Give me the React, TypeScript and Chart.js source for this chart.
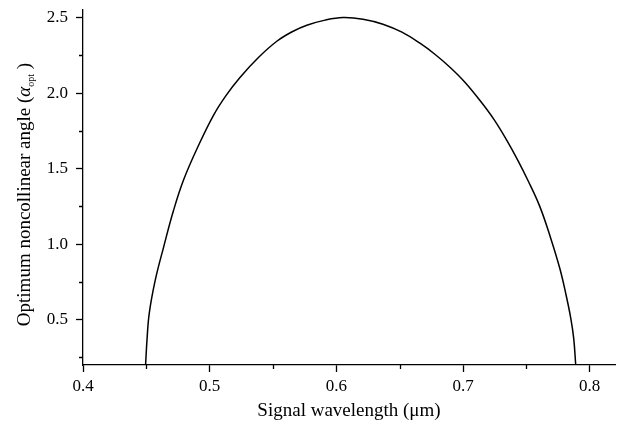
import React, { useEffect, useRef } from "react";
import { Chart, registerables } from "chart.js";

Chart.register(...registerables);

const wavelength = [
  0.4494, 0.4505, 0.4523, 0.4570, 0.4636, 0.4715, 0.4793, 0.4909, 0.5030, 0.5130,
  0.5241, 0.5383, 0.5530, 0.5651, 0.5767, 0.5911, 0.6053, 0.6211, 0.6368, 0.6518,
  0.6660, 0.6778, 0.6897, 0.7015, 0.7133, 0.7244, 0.7346, 0.7433, 0.7512, 0.7606,
  0.7693, 0.7764, 0.7811, 0.7851, 0.7874, 0.7890,
];
const angle = [
  0.200, 0.363, 0.542, 0.760, 0.979, 1.224, 1.423, 1.648, 1.853, 1.985,
  2.105, 2.234, 2.343, 2.406, 2.449, 2.483, 2.500, 2.489, 2.456, 2.403,
  2.330, 2.257, 2.171, 2.072, 1.952, 1.826, 1.687, 1.555, 1.423, 1.250,
  1.038, 0.840, 0.674, 0.509, 0.376, 0.200,
];

const xMajorTicks = [0.4, 0.5, 0.6, 0.7, 0.8];
const xMinorTicks = [0.45, 0.55, 0.65, 0.75];
const yMajorTicks = [0.5, 1.0, 1.5, 2.0, 2.5];
const yMinorTicks = [0.25, 0.75, 1.25, 1.75, 2.25];

const FONT = "'Liberation Serif', 'Times New Roman', serif";

const minorTicksPlugin = {
  id: "minorTicks",
  afterDraw(chart: any) {
    const { ctx, scales } = chart;
    const xs = scales.x;
    const ys = scales.y;
    ctx.save();
    ctx.strokeStyle = "#000";
    ctx.lineWidth = 1.3;
    ctx.beginPath();
    for (const v of xMinorTicks) {
      const px = Math.round(xs.getPixelForValue(v)) + 0.5;
      ctx.moveTo(px, ys.bottom);
      ctx.lineTo(px, ys.bottom + 4);
    }
    for (const v of yMinorTicks) {
      const py = Math.round(ys.getPixelForValue(v)) + 0.5;
      ctx.moveTo(xs.left, py);
      ctx.lineTo(xs.left - 4, py);
    }
    ctx.stroke();
    ctx.restore();
  },
};

const yTitlePlugin = {
  id: "yTitle",
  afterDraw(chart: any) {
    const { ctx, chartArea } = chart;
    const parts = [
      { t: "Optimum noncollinear angle (", f: `19px ${FONT}`, dy: 0 },
      { t: "\u03B1", f: `italic 19px ${FONT}`, dy: 0 },
      { t: "opt", f: `10px ${FONT}`, dy: 4 },
      { t: " )", f: `19px ${FONT}`, dy: 0 },
    ];
    ctx.save();
    let total = 0;
    const widths = parts.map((p) => {
      ctx.font = p.f;
      const w = ctx.measureText(p.t).width;
      total += w;
      return w;
    });
    const cy = (chartArea.top + chartArea.bottom) / 2 + 7;
    ctx.translate(30, cy);
    ctx.rotate(-Math.PI / 2);
    ctx.fillStyle = "#000";
    ctx.textBaseline = "alphabetic";
    ctx.textAlign = "left";
    let x = -total / 2;
    parts.forEach((p, i) => {
      ctx.font = p.f;
      ctx.fillText(p.t, x, p.dy);
      x += widths[i];
    });
    ctx.restore();
  },
};

export default function App() {
  const ref = useRef<HTMLCanvasElement | null>(null);

  useEffect(() => {
    if (!ref.current) return;
    const chart = new Chart(ref.current, {
      type: "scatter",
      data: {
        datasets: [
          {
            data: wavelength.map((x, i) => ({ x, y: angle[i] })),
            showLine: true,
            borderColor: "#000",
            borderWidth: 1.5,
            pointRadius: 0,
            tension: 0.4,
            fill: false,
          },
        ],
      },
      plugins: [minorTicksPlugin, yTitlePlugin],
      options: {
        animation: false,
        responsive: false,
        maintainAspectRatio: false,
        layout: { padding: { top: 10, right: 5, left: 0, bottom: 0 } },
        plugins: {
          legend: { display: false },
          tooltip: { enabled: false },
        },
        scales: {
          x: {
            type: "linear",
            min: 0.4,
            max: 0.82,
            afterBuildTicks: (scale: any) => {
              scale.ticks = xMajorTicks.map((v) => ({ value: v }));
            },
            afterFit: (scale: any) => {
              scale.height = 57;
              scale.paddingLeft = 0;
              scale.paddingRight = 0;
            },
            ticks: {
              color: "#000",
              font: { family: FONT, size: 17 },
              padding: 4,
              maxRotation: 0,
              callback: (v: any) => Number(v).toFixed(1),
            },
            grid: {
              drawOnChartArea: false,
              drawTicks: true,
              tickLength: 7,
              tickColor: "#000",
              tickWidth: 1.3,
            },
            border: { display: true, color: "#000", width: 1.3 },
            title: {
              display: true,
              text: "Signal wavelength (\u03BCm)",
              color: "#000",
              font: { family: FONT, size: 19 },
              padding: { top: 0, bottom: 0 },
            },
          },
          y: {
            type: "linear",
            min: 0.2,
            max: 2.55,
            afterBuildTicks: (scale: any) => {
              scale.ticks = yMajorTicks.map((v) => ({ value: v }));
            },
            afterFit: (scale: any) => {
              scale.width = 83;
              scale.paddingTop = 0;
              scale.paddingBottom = 0;
            },
            ticks: {
              color: "#000",
              font: { family: FONT, size: 17 },
              padding: 8,
              callback: (v: any) => Number(v).toFixed(1),
            },
            grid: {
              drawOnChartArea: false,
              drawTicks: true,
              tickLength: 7,
              tickColor: "#000",
              tickWidth: 1.3,
            },
            border: { display: true, color: "#000", width: 1.3 },
          },
        },
      },
    });
    return () => chart.destroy();
  }, []);

  return (
    <div style={{ position: "absolute", left: 0, top: 0, width: 620, height: 422, background: "#fff" }}>
      <canvas ref={ref} width={620} height={422} style={{ display: "block" }} />
    </div>
  );
}
